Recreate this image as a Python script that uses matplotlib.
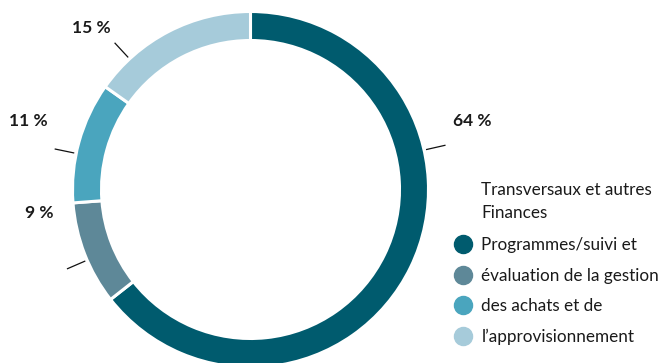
import matplotlib
matplotlib.use("Agg")
import matplotlib.pyplot as plt
from matplotlib.lines import Line2D
import numpy as np

# ---- data ----
categories = ["Transversaux et autres", "Finances",
              "Programmes/suivi et évaluation de la gestion",
              "des achats et de l’approvisionnement"]
values = [64.4, 9.4, 11.0, 15.2]
pct_labels = ["64 %", "9 %", "11 %", "15 %"]
colors = ["#005B6E", "#5E8898", "#4AA5BE", "#A6CBDA"]
legend_title_lines = ["Transversaux et autres", "Finances"]
legend_lines = ["Programmes/suivi et", "évaluation de la gestion",
                "des achats et de", "l’approvisionnement"]

# ---- layout (pixel coordinates, origin bottom-left) ----
W, H = 661, 363
cx, cy = 250.5, H - 189.5
R_out, ring_w = 178, 29
leader_angles = [12.8, 203.4, 168.3, 132.8]
label_pos = [(472, H - 120.5), (39, H - 213.5), (28.5, H - 120.5), (91.5, H - 28)]

plt.rcParams['font.family'] = ['Lato', 'DejaVu Sans']

fig = plt.figure(figsize=(W / 100, H / 100), dpi=100)
ax = fig.add_axes([0, 0, 1, 1])
ax.pie(values, colors=colors, startangle=90, counterclock=False,
       radius=R_out, center=(cx, cy),
       wedgeprops=dict(width=ring_w, edgecolor="white", linewidth=2.2))
ax.set_xlim(0, W)
ax.set_ylim(0, H)
ax.set_aspect('equal')
ax.axis('off')

for ang, lab, (lx, ly) in zip(leader_angles, pct_labels, label_pos):
    a = np.deg2rad(ang)
    r0, r1 = R_out + 2, R_out + 22
    ax.plot([cx + r0 * np.cos(a), cx + r1 * np.cos(a)],
            [cy + r0 * np.sin(a), cy + r1 * np.sin(a)],
            color="#111111", lw=0.9, solid_capstyle='butt')
    ax.text(lx, ly, lab, ha='center', va='center', fontsize=12.5,
            fontweight='bold', color="#1a1a1a")

handles = [Line2D([], [], marker='o', linestyle='none', markersize=13,
                  markerfacecolor=c, markeredgecolor=c) for c in colors]
leg = ax.legend(handles, legend_lines, loc='upper left',
                bbox_to_anchor=(455, H - 237), bbox_transform=ax.transData,
                frameon=False, fontsize=12.3, labelspacing=0.85,
                handlelength=0.95, handletextpad=0.6, borderpad=0,
                borderaxespad=0, labelcolor="#1a1a1a")

fig.canvas.draw()
tb = leg.get_texts()[0].get_window_extent()
x_text = ax.transData.inverted().transform((tb.x0, 0))[0]
for i, t in enumerate(legend_title_lines):
    ax.text(x_text, H - 190 - i * 23, t, ha='left', va='center',
            fontsize=12.3, color="#1a1a1a")

fig.savefig("out.png", dpi=100)
